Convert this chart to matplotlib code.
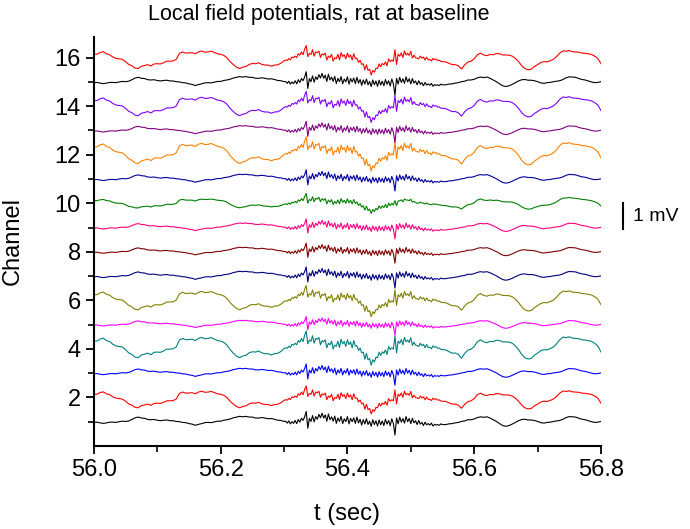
import numpy as np
import matplotlib
matplotlib.use('Agg')
import matplotlib.pyplot as plt

plt.rcParams['font.family'] = ['Liberation Sans', 'DejaVu Sans']

# ---- sample times: 5 ms outside the fast burst, 2.5 ms inside it ----
t_pre = np.round(56.000 + 0.005 * np.arange(61), 4)
t_burst = np.round(56.3025 + 0.0025 * np.arange(100), 4)
t_post = np.round(56.555 + 0.005 * np.arange(50), 4)

# ---- waveform of the large-amplitude channels (mV) ----
wave_a_pre = [0.21, 0.20, 0.28, 0.31, 0.22, 0.18, 0.08, 0.02, 0.00, -0.02,
              -0.12, -0.24, -0.30, -0.40, -0.42, -0.32, -0.29, -0.25, -0.31, -0.22,
              -0.21, -0.22, -0.17, -0.10, -0.10, -0.09, -0.02, 0.24, 0.30, 0.25,
              0.26, 0.27, 0.22, 0.30, 0.34, 0.29, 0.30, 0.33, 0.28, 0.22,
              0.20, 0.15, 0.05, -0.12, -0.25, -0.36, -0.42, -0.36, -0.33, -0.24,
              -0.20, -0.21, -0.17, -0.24, -0.27, -0.27, -0.32, -0.27, -0.26, -0.19,
              -0.08]
wave_a_burst = [-0.05, -0.07, 0.01, -0.04, 0.08, 0.05, 0.12, 0.06, 0.22, 0.16,
                0.30, 0.18, 0.42, 0.58, 0.10, 0.24, 0.19, 0.40, 0.12, 0.30,
                0.27, 0.34, 0.06, 0.22, 0.17, 0.25, -0.05, 0.12, 0.06, 0.20,
                -0.10, 0.05, 0.01, 0.20, -0.04, 0.27, 0.10, 0.18, 0.00, 0.25,
                0.07, 0.17, -0.05, 0.22, 0.01, 0.03, -0.15, -0.06, -0.24, -0.21,
                -0.48, -0.26, -0.50, -0.45, -0.70, -0.50, -0.58, -0.40, -0.42, -0.22,
                -0.34, -0.20, -0.26, -0.13, -0.30, 0.00, -0.12, -0.05, -0.10, 0.40,
                -0.24, 0.20, 0.12, 0.26, 0.06, 0.34, 0.17, 0.24, 0.15, 0.33,
                0.04, 0.16, 0.05, 0.03, 0.00, 0.12, 0.03, 0.08, -0.05, 0.07,
                -0.04, -0.03, -0.09, 0.02, -0.03, -0.01, -0.07, -0.06, -0.11, -0.12]
wave_a_post = [-0.13, -0.19, -0.25, -0.25, -0.30, -0.44, -0.26, -0.14, -0.10, 0.00,
               0.18, 0.25, 0.17, 0.14, 0.19, 0.18, 0.23, 0.22, 0.17, 0.17,
               0.16, 0.12, 0.02, -0.12, -0.30, -0.42, -0.47, -0.45, -0.33, -0.25,
               -0.16, -0.12, -0.13, -0.08, -0.02, 0.10, 0.25, 0.35, 0.33, 0.36,
               0.31, 0.30, 0.29, 0.25, 0.24, 0.22, 0.19, 0.12, 0.02, -0.21]

# ---- waveform of the small-amplitude channels (mV) ----
wave_b_pre = [-0.03, -0.02, -0.05, -0.07, -0.05, -0.02, -0.02, -0.03, 0.00, 0.02,
              0.01, 0.03, 0.09, 0.16, 0.19, 0.15, 0.14, 0.09, 0.08, 0.09,
              0.06, 0.04, 0.06, 0.07, 0.04, 0.04, 0.01, 0.00, -0.03, -0.04,
              -0.08, -0.10, -0.15, -0.11, -0.08, -0.04, -0.03, -0.04, -0.01, 0.02,
              0.02, 0.06, 0.08, 0.11, 0.16, 0.19, 0.22, 0.20, 0.22, 0.19,
              0.19, 0.15, 0.15, 0.17, 0.15, 0.12, 0.13, 0.10, 0.06, 0.05,
              0.01]
wave_b_burst = [0.02, -0.06, 0.03, -0.09, 0.00, -0.07, 0.05, -0.08, 0.09, -0.02,
                0.14, 0.05, 0.20, 0.42, -0.27, 0.14, 0.01, 0.25, -0.01, 0.21,
                0.10, 0.30, 0.16, 0.35, 0.15, 0.28, 0.02, 0.32, 0.08, 0.20,
                0.02, 0.23, -0.07, 0.15, 0.01, 0.22, -0.08, 0.12, 0.00, 0.21,
                -0.09, 0.14, 0.00, 0.16, -0.07, 0.19, -0.05, 0.10, -0.14, 0.08,
                -0.09, 0.12, -0.12, 0.02, -0.19, 0.08, -0.12, 0.04, -0.18, 0.07,
                -0.13, 0.03, -0.16, 0.10, -0.10, 0.05, -0.17, 0.12, -0.08, -0.55,
                0.15, -0.09, 0.19, -0.02, 0.13, -0.06, 0.21, 0.00, 0.13, -0.08,
                0.14, -0.05, 0.04, -0.12, 0.05, -0.10, -0.03, -0.16, -0.02, -0.13,
                -0.08, -0.14, -0.06, -0.18, -0.11, -0.14, -0.12, -0.15, -0.09, -0.12]
wave_b_post = [-0.12, -0.09, -0.08, -0.05, -0.03, 0.01, 0.03, 0.08, 0.08, 0.11,
               0.17, 0.20, 0.18, 0.20, 0.15, 0.08, 0.01, -0.08, -0.16, -0.19,
               -0.16, -0.10, -0.03, 0.04, 0.09, 0.10, 0.07, 0.07, 0.05, 0.01,
               -0.04, -0.06, -0.03, -0.02, 0.01, 0.03, 0.05, 0.10, 0.17, 0.21,
               0.20, 0.19, 0.14, 0.10, 0.08, 0.04, 0.00, -0.03, -0.02, 0.01]

# ---- per-channel mixture of the two waveforms ----
channels = list(range(1, 17))
colors = ['#000000', '#ff0000', '#0000ff', '#008080', '#ff00ff', '#808000',
          '#000080', '#800000', '#ff0080', '#008000', '#0000a0', '#ff8000',
          '#800080', '#8000ff', '#000000', '#ff0000']
gain_a = [0.0, 0.9, 0.0, 1.1, 0.0, 1.0, 0.0, 0.0,
          0.0, 0.55, 0.0, 1.1, 0.0, 1.0, 0.0, 0.95]
gain_b = [1.0, 0.0, 0.9, 0.0, 0.8, 0.0, 0.9, 0.85,
          0.85, 0.2, 0.9, 0.0, 0.9, 0.0, 1.0, 0.0]
shift = [0.0, -0.05, 0.0, 0.1, 0.0, 0.03, 0.0, 0.0,
         0.0, 0.0, 0.0, 0.1, 0.0, 0.03, 0.0, -0.05]

xticks = [56.0, 56.2, 56.4, 56.6, 56.8]
yticks = [2, 4, 6, 8, 10, 12, 14, 16]

t = np.concatenate([t_pre, t_burst, t_post])
wave_a = np.array(wave_a_pre + wave_a_burst + wave_a_post)
wave_b = np.array(wave_b_pre + wave_b_burst + wave_b_post)

fig = plt.figure(figsize=(6.90, 5.29), dpi=100)
ax = fig.add_axes([0.136, 0.157, 0.735, 0.773])

for ch, c, ga, gb, s in zip(channels, colors, gain_a, gain_b, shift):
    y = ch + s + ga * wave_a + gb * wave_b
    ax.plot(t, y, color=c, lw=0.8)

ax.set_xlim(56.0, 56.8)
ax.set_ylim(0, 16.85)
ax.set_xticks(xticks)
ax.set_xticklabels([f'{v:.1f}' for v in xticks])
ax.set_xticks([56.1, 56.3, 56.5, 56.7], minor=True)
ax.set_yticks(yticks)
ax.set_yticks([1, 3, 5, 7, 9, 11, 13, 15], minor=True)
ax.spines['top'].set_visible(False)
ax.spines['right'].set_visible(False)
for sp in ('left', 'bottom'):
    ax.spines[sp].set_linewidth(1.5)
ax.tick_params(which='major', direction='out', length=6, width=1.3, labelsize=17)
ax.tick_params(which='minor', direction='out', length=4, width=1.2)
ax.set_xlabel('t (sec)', fontsize=17, labelpad=16)
ax.set_ylabel('Channel', fontsize=17, labelpad=22)

fig.text(0.462, 0.972, 'Local field potentials, rat at baseline',
         fontsize=15.5, ha='center', va='center')

# 1 mV scale bar
scale_mv = 1.07
ax.plot([56.835, 56.835], [8.93, 8.93 + scale_mv], color='black', lw=1.5,
        clip_on=False)
ax.text(56.851, 8.93 + scale_mv / 2, '1 mV', fontsize=14, va='center',
        ha='left', clip_on=False)

fig.savefig('out.png', dpi=100)
